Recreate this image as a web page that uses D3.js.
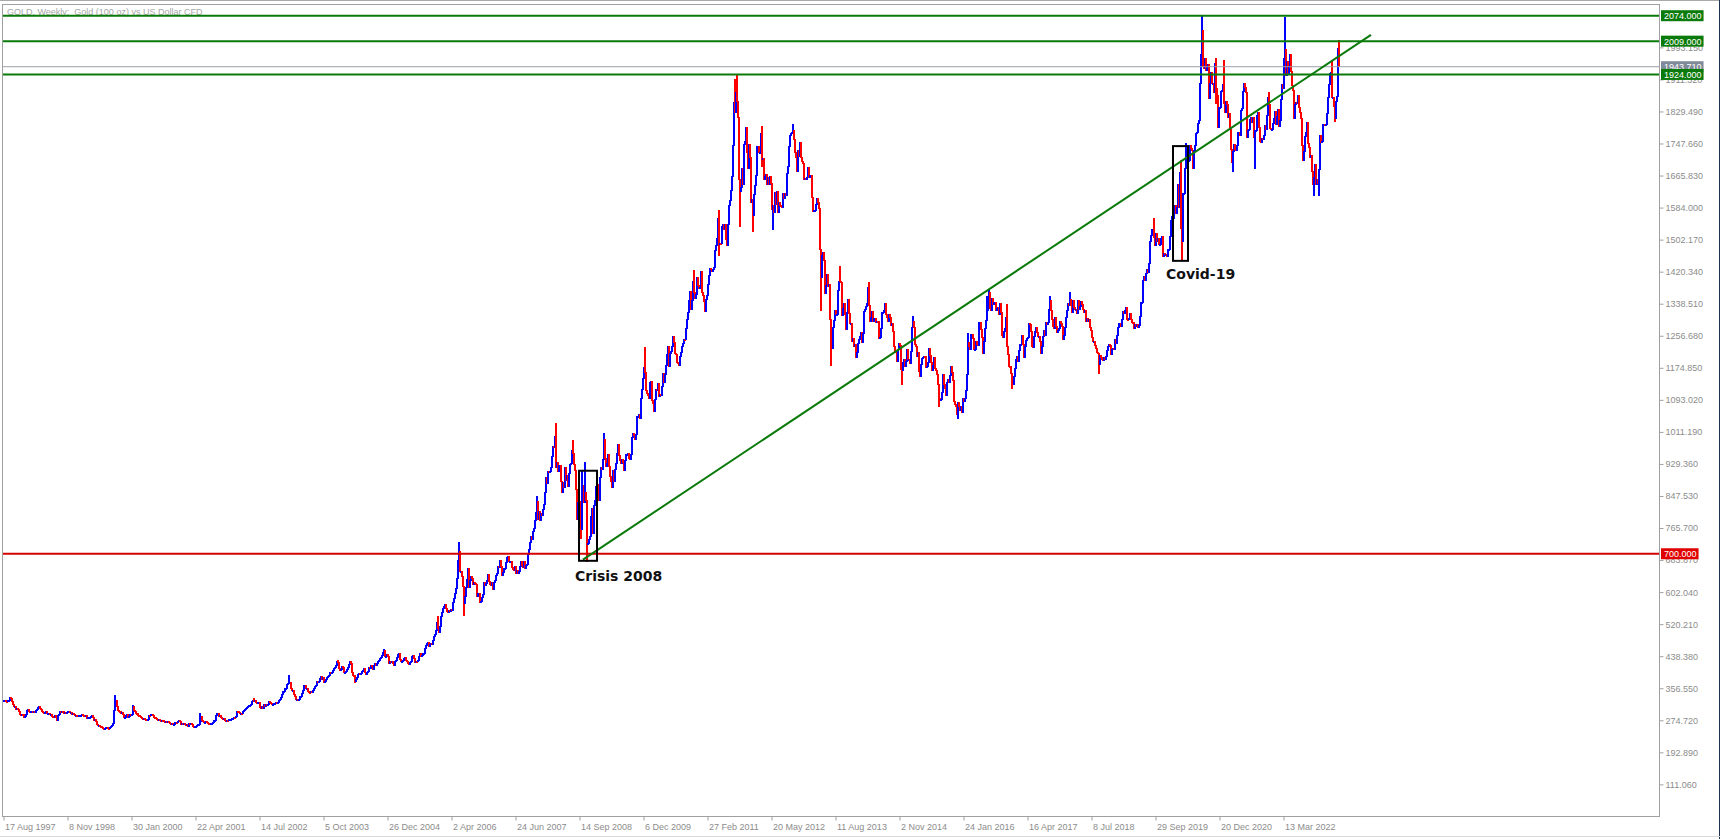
<!DOCTYPE html>
<html><head><meta charset="utf-8">
<script src="https://cdn.jsdelivr.net/npm/d3@7"></script>
<style>body{margin:0;background:#fff;overflow:hidden}svg{display:block}</style>
</head><body>
<svg id="chart" width="1720" height="839"></svg>
<script>
// ---------- DATA (weekly closes, bar 0 = week of 17 Aug 1997) ----------
const title = "GOLD, Weekly:  Gold (100 oz) vs US Dollar CFD";
const y1997 = [324,326,323,322,324,325,332,331,323,314,311,311,303,305,301,296,290,287,290,289];
const y1998 = [282,284,290,300,301,298,296,296,297,296,297,295,300,302,308,310,306,302,298,295,293,294,297,291,291,293,289,289,285,284,281,286,283,275,287,290,297,294,297,296,293,294,292,295,296,296,294,294,290,291,289,288];
const y1999 = [288,287,286,287,287,288,289,287,286,284,286,280,282,282,283,285,288,283,275,277,272,265,262,262,260,259,256,255,253,255,256,257,255,254,256,258,262,266,299,318,326,310,300,297,296,292,294,290,282,283,288,289];
const y2000 = [282,284,289,288,290,310,300,297,293,292,287,286,285,283,280,279,280,277,276,274,276,287,286,289,290,288,283,281,280,278,276,277,274,272,275,273,272,271,271,268,272,270,267,265,266,264,265,268,270,269,272,273,272];
const y2001 = [265,266,264,266,264,262,263,260,266,264,267,263,258,257,258,258,261,263,264,272,284,275,272,269,269,272,268,267,266,264,267,267,270,274,274,287,291,292,285,288,282,280,278,280,275,274,275,273,276,278,278,279];
const y2002 = [280,283,282,285,297,296,295,293,293,291,296,300,303,304,307,309,312,313,315,323,326,322,324,319,318,319,320,308,305,310,306,314,311,314,313,316,323,319,318,314,316,317,318,321,319,321,325,329,333,341,347,348];
const y2003 = [355,356,366,368,370,371,356,351,351,340,336,328,329,325,328,335,336,343,352,363,364,357,357,347,346,345,348,346,351,357,360,364,374,372,375,381,386,380,384,371,374,380,384,386,389,396,393,396,402,407,410,415];
const y2004 = [424,423,408,403,405,413,410,397,398,400,404,409,418,425,421,398,390,388,375,378,385,392,394,391,394,400,402,408,398,392,398,400,410,406,414,413,405,414,419,415,421,425,428,433,434,441,447,453,438,438,443,438];
const y2005 = [420,424,422,424,420,414,424,427,435,442,444,431,426,426,428,432,435,428,424,419,417,422,426,437,439,433,423,425,424,428,437,445,438,440,444,446,458,465,472,473,463,467,470,468,478,488,495,504,524,510,500,513];
const y2006 = [540,550,560,566,570,561,552,549,555,552,557,556,575,585,598,612,637,684,705,655,655,642,616,574,590,613,633,663,615,631,643,636,621,626,623,621,590,599,599,575,579,588,597,626,620,625,632,646,630,622,620,626,608];
const y2007 = [626,632,645,650,667,665,683,667,645,653,662,663,678,690,692,680,680,680,665,659,657,667,649,656,650,655,667,680,670,666,680,663,670,672,697,712,730,743,737,756,764,786,806,833,788,809,784,802,797,813,827,857];
const y2008 = [896,880,910,908,910,920,948,973,972,1000,920,933,910,925,925,884,856,882,870,920,886,900,871,904,927,931,963,956,928,912,865,788,832,833,800,763,864,875,832,857,837,725,727,737,744,795,815,752,823,837,872,878];
const y2009 = [855,836,895,919,914,940,993,942,922,930,953,922,898,884,870,913,884,916,931,956,980,952,938,931,940,932,912,937,953,954,956,942,940,954,996,1007,1003,991,1004,1050,1051,1056,1045,1096,1119,1147,1175,1162,1118,1110,1104,1096];
const y2010 = [1138,1140,1091,1083,1064,1093,1120,1118,1134,1102,1106,1105,1126,1161,1137,1158,1180,1208,1228,1177,1211,1217,1229,1256,1239,1211,1210,1189,1188,1181,1204,1214,1229,1237,1248,1246,1275,1298,1317,1346,1369,1325,1346,1394,1367,1353,1362,1406,1385,1378,1380,1421];
const y2011 = [1368,1360,1343,1318,1349,1360,1388,1410,1428,1427,1420,1427,1431,1474,1486,1504,1556,1491,1493,1492,1536,1541,1528,1540,1502,1486,1542,1590,1601,1628,1663,1743,1852,1828,1877,1856,1813,1656,1624,1636,1683,1642,1746,1752,1788,1725,1685,1746,1713,1598,1605,1565];
const y2012 = [1617,1641,1665,1739,1740,1724,1725,1773,1710,1710,1656,1663,1668,1644,1660,1642,1663,1645,1578,1590,1571,1622,1592,1626,1572,1598,1590,1589,1583,1620,1606,1620,1616,1672,1690,1740,1768,1773,1776,1780,1758,1724,1711,1676,1731,1714,1751,1711,1701,1697,1657,1658,1656];
const y2013 = [1662,1687,1660,1667,1667,1609,1573,1576,1577,1592,1606,1596,1581,1476,1405,1462,1470,1448,1365,1386,1414,1383,1388,1298,1234,1223,1278,1296,1322,1310,1312,1372,1396,1395,1392,1308,1326,1338,1311,1272,1315,1350,1314,1287,1288,1243,1250,1229,1235,1202,1213,1237];
const y2014 = [1247,1254,1264,1240,1263,1318,1324,1331,1339,1379,1335,1294,1303,1318,1294,1301,1302,1290,1293,1292,1250,1252,1275,1316,1316,1320,1338,1310,1304,1293,1310,1304,1282,1287,1268,1230,1216,1215,1192,1222,1238,1231,1171,1169,1188,1196,1177,1192,1222,1195,1195,1187];
const y2015 = [1216,1277,1293,1279,1234,1228,1204,1213,1166,1152,1184,1199,1200,1204,1203,1175,1179,1188,1225,1205,1189,1168,1181,1201,1173,1169,1157,1131,1096,1094,1094,1113,1159,1133,1121,1103,1137,1145,1137,1156,1177,1163,1142,1088,1081,1076,1056,1085,1076,1065,1076,1061];
const y2016 = [1097,1089,1096,1117,1157,1239,1230,1222,1259,1259,1250,1221,1222,1242,1235,1231,1290,1291,1273,1252,1212,1243,1274,1295,1322,1339,1366,1327,1322,1351,1336,1341,1341,1320,1327,1328,1310,1338,1316,1258,1251,1267,1275,1304,1228,1209,1178,1177,1160,1134,1133,1152];
const y2017 = [1173,1196,1204,1191,1220,1234,1235,1258,1234,1201,1229,1244,1249,1253,1288,1285,1268,1228,1227,1254,1267,1279,1266,1255,1256,1242,1212,1228,1254,1269,1258,1290,1285,1291,1325,1346,1320,1297,1280,1274,1304,1280,1266,1269,1275,1293,1287,1280,1248,1257,1278,1303,1320];
const y2018 = [1338,1333,1350,1333,1315,1347,1330,1323,1323,1313,1346,1324,1332,1345,1336,1323,1315,1320,1292,1302,1294,1299,1278,1270,1253,1241,1241,1231,1223,1214,1212,1184,1206,1200,1196,1194,1200,1196,1203,1218,1228,1234,1232,1210,1222,1223,1222,1248,1238,1258,1279,1287];
const y2019 = [1289,1281,1298,1319,1314,1322,1329,1299,1298,1302,1313,1297,1291,1290,1275,1286,1280,1286,1277,1284,1305,1341,1341,1399,1409,1398,1415,1426,1419,1440,1497,1513,1527,1529,1507,1488,1517,1497,1504,1489,1490,1505,1509,1459,1468,1463,1464,1460,1476,1478,1511,1552];
const y2020 = [1562,1557,1571,1589,1570,1584,1644,1585,1674,1530,1498,1620,1620,1683,1683,1729,1702,1703,1743,1735,1730,1684,1729,1743,1772,1775,1798,1807,1902,1975,2035,1944,1940,1964,1933,1941,1950,1862,1900,1930,1900,1902,1879,1951,1889,1871,1788,1839,1839,1881,1883,1898];
const y2021 = [1849,1828,1856,1848,1813,1823,1784,1733,1700,1727,1745,1732,1729,1743,1777,1777,1769,1832,1838,1881,1902,1891,1877,1764,1781,1784,1808,1815,1802,1814,1763,1780,1781,1818,1827,1788,1754,1751,1761,1757,1768,1793,1783,1818,1865,1846,1785,1783,1784,1798,1811,1829];
const y2022 = [1797,1817,1835,1791,1807,1859,1898,1889,1966,1988,1921,1958,1925,1945,1974,1932,1896,1883,1811,1846,1853,1850,1871,1839,1826,1811,1742,1703,1727,1766,1775,1802,1747,1738,1712,1717,1675,1644,1661,1694,1643,1657,1645,1681,1769,1751,1754,1797,1797,1793,1797,1824];
const y2023 = [1866,1898,1926,1928,1865,1865,1842,1811,1856,1868,1989,1943.71];

// weekly extremes that stick out of the open/close range: [bar, high, low]
const wicks = [
  [111,338,null],[129,313,null],[196,293,null],[250,330,null],[285,388,null],[334,427,null],[351,null,371],[380,456,null],
  [434,540,null],[455,730,null],[460,null,543],[533,845,null],[552,1032,null],[569,988,null],[577,null,740],[578,909,null],
  [581,934,null],[583,null,681],[600,1006,null],[641,1226,null],[690,1424,null],[715,1577,1462],[731,1911,null],[733,1921,null],
  [736,null,1535],[749,null,1523],[758,1790,1688],[769,null,1527],[789,1796,null],[817,null,1321],[827,null,1180],[836,1433,null],
  [865,1392,null],[898,null,1131],[909,1307,null],[935,null,1077],[954,null,1046],[964,1263,null],[983,1358,null],[985,1375,null],
  [1003,1337,null],[1008,null,1122],[1046,1357,null],[1066,1366,null],[1095,null,1160],[1150,1557,null],[1177,1703,null],
  [1178,null,1451],[1182,1747,null],[1198,2075,null],[1212,1965,1850],[1220,1959,null],[1229,null,1677],[1251,null,1684],
  [1265,1877,null],[1281,2070,null],[1310,null,1615],[1315,null,1616],[1328,1959,null],[1331,null,1804],[1335,2009.7,null]
];

const xTickBars   = [0,64,128,192,256,320,384,448,512,576,640,704,768,832,896,960,1024,1088,1152,1216,1280];
const xTickLabels = ["17 Aug 1997","8 Nov 1998","30 Jan 2000","22 Apr 2001","14 Jul 2002","5 Oct 2003","26 Dec 2004","2 Apr 2006","24 Jun 2007","14 Sep 2008","6 Dec 2009","27 Feb 2011","20 May 2012","11 Aug 2013","2 Nov 2014","24 Jan 2016","16 Apr 2017","8 Jul 2018","29 Sep 2019","20 Dec 2020","13 Mar 2022"];
const yTicks = [111.06,192.89,274.72,356.55,438.38,520.21,602.04,683.87,765.70,847.53,929.36,1011.19,1093.02,1174.85,1256.68,1338.51,1420.34,1502.17,1584.00,1665.83,1747.66,1829.49,1911.32,1993.15];

const greenLevels = [2074, 2009, 1924];
const redLevels = [700];
const bidPrice = 1943.71;
const trendPoints = [[580, 685], [1368, 2025]];
const boxes = [
  {label:"Crisis 2008", from:576, to:594, hi:912, lo:682},
  {label:"Covid-19", from:1170, to:1185, hi:1741, lo:1448}
];

// ---------- CHART ----------
const W = 1720, H = 839;
const plot = {left:3, top:4, right:1659, bottom:816};
const svg = d3.select("#chart");
const x = d3.scaleLinear().domain([0, 1656]).range([plot.left, plot.right]);
const y = d3.scaleLinear().domain([30.3, 2103.9]).range([plot.bottom, plot.top]);

const closes = [].concat(y1997,y1998,y1999,y2000,y2001,y2002,y2003,y2004,y2005,y2006,y2007,y2008,y2009,y2010,y2011,y2012,y2013,y2014,y2015,y2016,y2017,y2018,y2019,y2020,y2021,y2022,y2023);
const wickMap = new Map(wicks.map(w => [w[0], w]));
const bars = closes.map((c, i) => {
  const o = i === 0 ? c : closes[i - 1];
  let hi = Math.max(o, c), lo = Math.min(o, c);
  const w = wickMap.get(i);
  if (w) { if (w[1] != null) hi = Math.max(hi, w[1]); if (w[2] != null) lo = Math.min(lo, w[2]); }
  return {i, o, c, hi, lo, up: c >= o};
});

// frame
svg.append("rect").attr("width", W).attr("height", H).attr("fill", "#fff");
svg.append("line").attr("x1",0).attr("x2",W).attr("y1",0.5).attr("y2",0.5).attr("stroke","#a9a9a9");
svg.append("line").attr("x1",W-0.5).attr("x2",W-0.5).attr("y1",0).attr("y2",H).attr("stroke","#203050");
svg.append("line").attr("x1",0).attr("x2",W).attr("y1",836.5).attr("y2",836.5).attr("stroke","#d8d8d8");
svg.append("rect").attr("x", plot.left - 0.5).attr("y", plot.top + 0.5)
  .attr("width", plot.right - plot.left + 1).attr("height", plot.bottom - plot.top)
  .attr("fill", "none").attr("stroke", "#a0a0a0");

// axes
const yAxis = d3.axisRight(y).tickValues(yTicks).tickFormat(d3.format(".3f")).tickSize(4).tickPadding(2);
const gy = svg.append("g").attr("transform", `translate(${plot.right + 0.5},0)`).call(yAxis);
gy.select(".domain").remove();
gy.selectAll(".tick line").attr("stroke", "#a0a0a0");
gy.selectAll(".tick text").attr("fill", "#8c8c8c").style("font", "9px 'Liberation Sans', Arial, sans-serif");

const xAxis = d3.axisBottom(x).tickValues(xTickBars).tickFormat((d, i) => xTickLabels[i]).tickSize(4).tickPadding(3);
const gx = svg.append("g").attr("transform", `translate(0.5,${plot.bottom + 0.5})`).call(xAxis);
gx.select(".domain").remove();
gx.selectAll(".tick line").attr("stroke", "#a0a0a0");
gx.selectAll(".tick text").attr("fill", "#8c8c8c").attr("text-anchor", "start").attr("dx", 1)
  .style("font", "9px 'Liberation Sans', Arial, sans-serif");

// title
svg.append("text").attr("x", 7).attr("y", 15).attr("fill", "#a6a6a6")
  .style("font", "9px 'Liberation Sans', Arial, sans-serif").style("white-space", "pre").text(title);

// bars (2px wide, 1px apart, so neighbouring weeks overlap as on the terminal)
svg.append("g").attr("shape-rendering", "crispEdges")
  .selectAll("line").data(bars).join("line")
  .attr("x1", d => Math.round(x(d.i)) + 1).attr("x2", d => Math.round(x(d.i)) + 1)
  .attr("y1", d => y(d.hi) - 0.5).attr("y2", d => Math.max(y(d.lo) + 0.5, y(d.hi) + 1.5))
  .attr("stroke", d => d.up ? "#0000ff" : "#ff0000").attr("stroke-width", 2);

// horizontal levels
svg.append("line").attr("x1", plot.left).attr("x2", plot.right).attr("y1", y(bidPrice)).attr("y2", y(bidPrice))
  .attr("stroke", "#9aa0a8").attr("stroke-width", 1);
svg.selectAll("line.green").data(greenLevels).join("line").attr("class", "green")
  .attr("x1", plot.left).attr("x2", plot.right).attr("y1", d => y(d)).attr("y2", d => y(d))
  .attr("stroke", "#0a7a0a").attr("stroke-width", 2);
svg.selectAll("line.red").data(redLevels).join("line").attr("class", "red")
  .attr("x1", plot.left).attr("x2", plot.right).attr("y1", d => y(d)).attr("y2", d => y(d))
  .attr("stroke", "#d40000").attr("stroke-width", 2);

// trend line
svg.append("line")
  .attr("x1", x(trendPoints[0][0])).attr("y1", y(trendPoints[0][1]))
  .attr("x2", x(trendPoints[1][0])).attr("y2", y(trendPoints[1][1]))
  .attr("stroke", "#0a7a0a").attr("stroke-width", 2);

// boxes + labels
boxes.forEach(b => {
  svg.append("rect").attr("x", x(b.from)).attr("y", y(b.hi))
    .attr("width", x(b.to) - x(b.from)).attr("height", y(b.lo) - y(b.hi))
    .attr("fill", "none").attr("stroke", "#000").attr("stroke-width", 2);
});
svg.append("text").attr("x", x(572)).attr("y", y(682) + 20).attr("fill", "#111")
  .style("font", "bold 14px 'DejaVu Sans', Verdana, sans-serif").text(boxes[0].label);
svg.append("text").attr("x", x(1163)).attr("y", y(1448) + 18).attr("fill", "#111")
  .style("font", "bold 14px 'DejaVu Sans', Verdana, sans-serif").text(boxes[1].label);

// price labels on the right
function priceTag(v, bg) {
  const g = svg.append("g");
  const t = g.append("text").attr("x", plot.right + 5).attr("y", y(v) + 3.5).attr("fill", "#fff")
    .style("font", "9px 'Liberation Sans', Arial, sans-serif").text(d3.format(".3f")(v));
  const w = t.node().getComputedTextLength();
  g.insert("rect", "text").attr("x", plot.right + 2).attr("y", y(v) - 5.5)
    .attr("width", w + 5).attr("height", 11).attr("fill", bg);
}
priceTag(bidPrice, "#7f8a99");
greenLevels.forEach(v => priceTag(v, "#0a7a0a"));
redLevels.forEach(v => priceTag(v, "#e00000"));
</script>
</body></html>
